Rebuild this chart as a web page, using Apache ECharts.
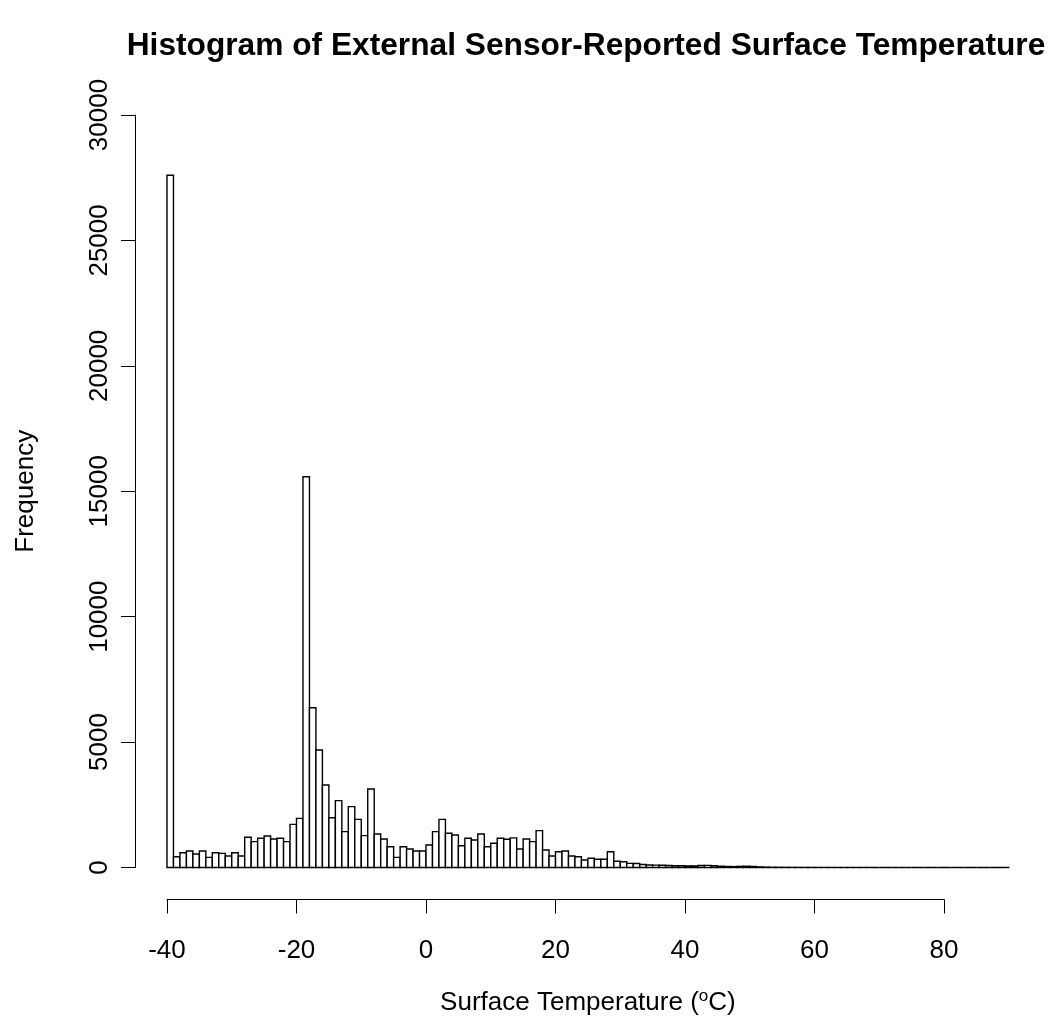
<!DOCTYPE html>
<html>
<head>
<meta charset="utf-8">
<script src="https://cdn.jsdelivr.net/npm/echarts@6/dist/echarts.min.js"></script>
<style>
html,body{margin:0;padding:0;background:#fff;}
#chart{width:1050px;height:1021px;}
</style>
</head>
<body>
<div id="chart"></div>
<script>
// ---- data ----
const chartTitle = 'Histogram of External Sensor-Reported Surface Temperature';
const xTitle = 'Surface Temperature';
const yTitle = 'Frequency';
const firstBreak = -40;   // left edge of first bin (°C)
const binWidth = 1;       // bin width (°C)
// counts per 1 °C bin, from [-40,-39) to [89,90)
const counts = [
  27600, 430, 590, 660, 540, 660, 405, 590, 565, 460,   // -40 .. -31
  590, 460, 1205, 1030, 1165, 1255, 1135, 1165, 1030, 1720, // -30 .. -21
  1960, 15580, 6370, 4685, 3290, 1985, 2665, 1430, 2425, 1920, // -20 .. -11
  1270, 3130, 1335, 1135, 830, 405, 830, 740, 660, 660,   // -10 .. -1
  900, 1430, 1920, 1365, 1295, 870, 1165, 1095, 1335, 830, // 0 .. 9
  965, 1165, 1125, 1180, 740, 1135, 1030, 1470, 700, 460, // 10 .. 19
  630, 660, 460, 430, 300, 370, 330, 330, 630, 250,       // 20 .. 29
  230, 165, 160, 120, 100, 95, 90, 80, 70, 70,            // 30 .. 39
  60, 60, 80, 85, 70, 50, 40, 35, 45, 50,                 // 40 .. 49
  40, 25, 15, 10, 8, 6, 5, 4, 3, 3,                       // 50 .. 59
  2, 2, 2, 1, 1, 1, 1, 1, 1, 0,                           // 60 .. 69
  0, 0, 0, 0, 0, 0, 0, 0, 0, 0,                           // 70 .. 79
  0, 0, 0, 0, 0, 0, 0, 0, 0, 1                            // 80 .. 89
];
const xTicks = [-40, 80, 20];      // min, max, step of the drawn x axis
const yTicks = [0, 30000, 5000];   // min, max, step of the y axis

// ---- chart ----
const bins = counts.map((c, i) => [firstBreak + i * binWidth, firstBreak + (i + 1) * binWidth, c]);
const xMax = firstBreak + counts.length * binWidth;
const FONT = '"Liberation Sans", Arial, Helvetica, sans-serif';

const chart = echarts.init(document.getElementById('chart'), null, {renderer: 'canvas'});
const gridTop = 115, gridBottom = 1021 - 867.5, gridLeft = 167;
const pxPerUnit = (1008.8 - 167) / (xMax - firstBreak);

chart.setOption({
  backgroundColor: '#fff',
  animation: false,
  title: {
    text: chartTitle,
    left: 581, top: 25, textAlign: 'center',
    textStyle: {fontFamily: FONT, fontWeight: 'bold', fontSize: 31.7, color: '#000'}
  },
  grid: [
    {left: gridLeft, right: 1050 - 1008.8, top: gridTop, bottom: gridBottom},
    {left: gridLeft, width: pxPerUnit * (xTicks[1] - xTicks[0]), top: gridTop, bottom: gridBottom}
  ],
  xAxis: [
    {
      gridIndex: 0, type: 'value', min: firstBreak, max: xMax,
      axisLine: {show: false, onZero: false}, axisTick: {show: false}, axisLabel: {show: false}, splitLine: {show: false},
      name: '{n|' + xTitle + ' (}{s|o}{n|C)}',
      nameLocation: 'middle', nameGap: 118,
      nameTextStyle: {
        rich: {
          n: {fontFamily: FONT, fontSize: 26, color: '#000', verticalAlign: 'bottom', lineHeight: 30},
          s: {fontFamily: FONT, fontSize: 17, color: '#000', verticalAlign: 'bottom', lineHeight: 30, padding: [0, 0, 11, 0]}
        }
      }
    },
    {
      gridIndex: 1, type: 'value', min: xTicks[0], max: xTicks[1], interval: xTicks[2],
      offset: 32,
      axisLine: {show: true, onZero: false, lineStyle: {color: '#000', width: 1}},
      axisTick: {show: true, inside: false, length: 14, lineStyle: {color: '#000', width: 1}},
      axisLabel: {show: true, margin: 38, fontFamily: FONT, fontSize: 26, color: '#000'},
      splitLine: {show: false}
    }
  ],
  yAxis: [
    {
      gridIndex: 0, type: 'value', min: yTicks[0], max: yTicks[1], interval: yTicks[2],
      offset: 32,
      axisLine: {show: true, onZero: false, lineStyle: {color: '#000', width: 1}},
      axisTick: {show: true, inside: false, length: 14, lineStyle: {color: '#000', width: 1}},
      axisLabel: {show: true, rotate: 90, margin: 22, fontFamily: FONT, fontSize: 26, color: '#000',
                  formatter: function (v) { return String(v); }},
      splitLine: {show: false},
      name: yTitle, nameLocation: 'middle', nameGap: 96,
      nameTextStyle: {fontFamily: FONT, fontSize: 26, color: '#000'}
    },
    {gridIndex: 1, type: 'value', min: yTicks[0], max: yTicks[1], show: false,
     axisLine: {show: false, onZero: false}}
  ],
  series: [{
    type: 'custom',
    xAxisIndex: 0, yAxisIndex: 0,
    clip: false,
    encode: {x: [0, 1], y: 2},
    data: bins,
    renderItem: function (params, api) {
      const p0 = api.coord([api.value(0), 0]);
      const p1 = api.coord([api.value(1), api.value(2)]);
      return {
        type: 'rect',
        shape: {x: p0[0], y: p1[1], width: p1[0] - p0[0], height: p0[1] - p1[1]},
        style: {fill: '#fff', stroke: '#000', lineWidth: 1.4}
      };
    }
  }]
});
</script>
</body>
</html>
